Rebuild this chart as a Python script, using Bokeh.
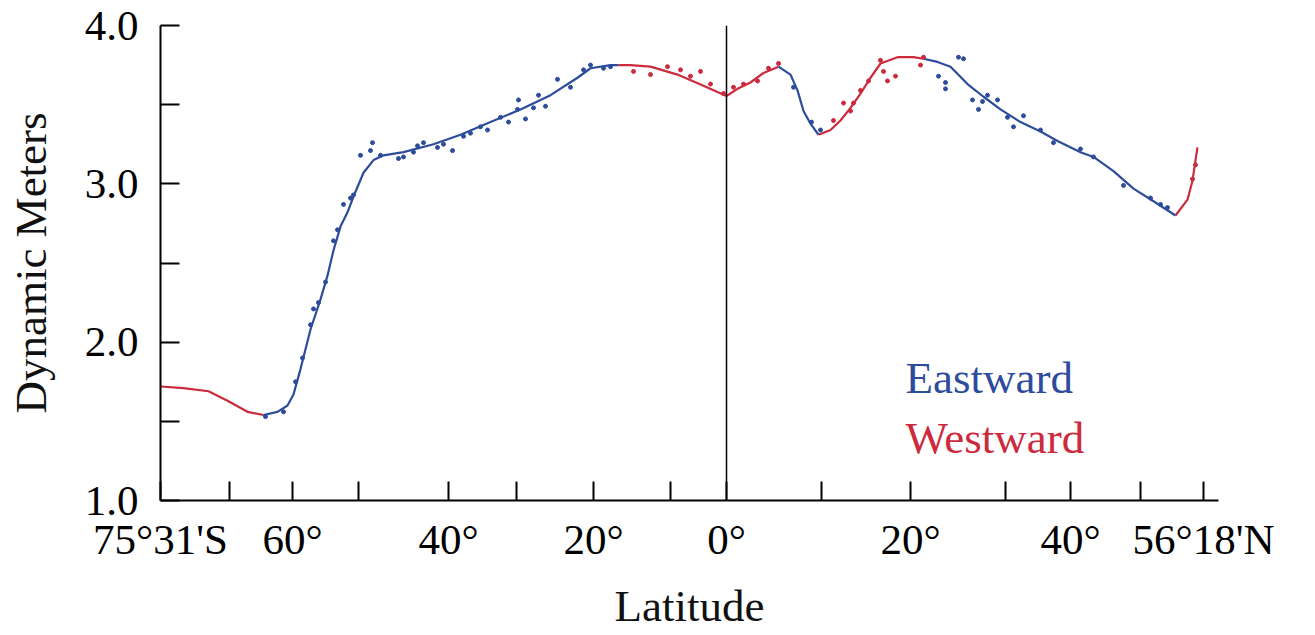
from bokeh.plotting import figure
from bokeh.models import FixedTicker, PrintfTickFormatter, Span, Label, Range1d
from bokeh.embed import file_html
from bokeh.resources import INLINE

# x: distance along the cruise track (arbitrary units), y: dynamic height (dynamic meters)

# ---- smoothed curve, split by direction of geostrophic flow ----
west1_x = [0.0, 2.3, 4.8, 6.7, 8.7, 10.3]
west1_y = [1.72, 1.71, 1.69, 1.63, 1.56, 1.54]

east1_x = [10.3, 11.7, 12.7, 13.3, 14.0, 15.0, 16.0, 16.7, 17.3, 18.0, 18.7, 19.3, 20.3,
           21.3, 22.3, 24.3, 27.3, 30.0, 33.0, 36.0, 39.0, 41.7, 43.0, 45.0, 45.8]
east1_y = [1.54, 1.56, 1.60, 1.67, 1.83, 2.08, 2.27, 2.42, 2.58, 2.73, 2.82, 2.92, 3.07,
           3.15, 3.18, 3.20, 3.25, 3.31, 3.39, 3.47, 3.56, 3.67, 3.73, 3.75, 3.75]

west2_x = [45.8, 47.0, 49.0, 51.7, 54.3, 55.7, 56.6, 57.7, 59.0, 60.3, 61.8]
west2_y = [3.75, 3.75, 3.74, 3.69, 3.62, 3.58, 3.555, 3.60, 3.64, 3.70, 3.74]

east2_x = [61.8, 63.0, 63.7, 64.3, 65.0, 65.8]
east2_y = [3.74, 3.69, 3.59, 3.46, 3.38, 3.31]

west3_x = [65.8, 67.0, 68.0, 69.0, 70.0, 71.0, 72.0, 73.7, 75.3, 76.3]
west3_y = [3.31, 3.34, 3.40, 3.48, 3.57, 3.67, 3.76, 3.80, 3.80, 3.79]

east3_x = [76.3, 77.7, 79.0, 80.7, 82.3, 84.0, 86.0, 88.0, 89.7, 92.0, 93.3, 95.3, 97.3, 99.3, 101.5]
east3_y = [3.79, 3.77, 3.74, 3.63, 3.55, 3.47, 3.39, 3.33, 3.27, 3.20, 3.17, 3.08, 2.97, 2.89, 2.80]

west4_x = [101.5, 102.7, 103.2, 103.5, 103.7]
west4_y = [2.80, 2.90, 3.02, 3.15, 3.23]

# ---- station values ----
east_pts_x = [10.5, 12.3, 13.5, 14.2, 15.0, 15.3, 15.8, 16.5, 17.3, 17.7, 18.3, 19.0, 19.3,
              20.0, 21.0, 21.2, 22.0, 23.8, 24.3, 25.3, 25.7, 26.3, 27.7, 28.3, 29.2, 30.3,
              31.0, 32.0, 32.7, 34.0, 34.8, 35.7, 35.8, 36.5, 37.3, 37.8, 38.5, 39.7, 41.0,
              42.3, 43.0, 44.3, 45.0,
              63.3, 65.1, 66.0,
              77.8, 78.5, 78.5, 79.8, 80.3, 81.2, 81.8, 82.2, 82.7, 83.7, 84.7, 85.3, 86.3,
              88.0, 89.3, 92.0, 93.3, 96.3, 99.0, 100.0, 100.7]
east_pts_y = [1.53, 1.56, 1.75, 1.90, 2.11, 2.21, 2.25, 2.38, 2.64, 2.71, 2.87, 2.91, 2.93,
              3.18, 3.21, 3.26, 3.18, 3.16, 3.17, 3.20, 3.24, 3.26, 3.23, 3.25, 3.21, 3.30,
              3.32, 3.36, 3.34, 3.42, 3.39, 3.47, 3.53, 3.41, 3.48, 3.56, 3.49, 3.66, 3.61,
              3.72, 3.75, 3.73, 3.74,
              3.61, 3.39, 3.34,
              3.68, 3.64, 3.60, 3.80, 3.79, 3.53, 3.47, 3.52, 3.56, 3.53, 3.42, 3.36, 3.43,
              3.34, 3.26, 3.22, 3.17, 2.99, 2.91, 2.87, 2.85]

west_pts_x = [47.3, 49.0, 50.7, 52.0, 53.0, 54.0, 55.0, 56.3, 57.3, 58.3, 59.7, 60.8, 61.8,
              67.3, 68.3, 69.0, 69.3, 70.0, 70.8, 72.0, 72.3, 72.7, 73.5, 76.0, 76.3,
              103.2, 103.5]
west_pts_y = [3.71, 3.69, 3.74, 3.72, 3.68, 3.71, 3.63, 3.57, 3.61, 3.63, 3.65, 3.73, 3.76,
              3.40, 3.51, 3.46, 3.51, 3.59, 3.65, 3.78, 3.71, 3.65, 3.68, 3.75, 3.80,
              3.03, 3.12]

# ---- axis ticks ----
lat_tick_pos = [0.0, 13.2, 28.8, 43.3, 56.6, 75.0, 91.0, 104.3]
lat_tick_labels = ["75°31'S", "60°", "40°", "20°", "0°", "20°", "40°", "56°18'N"]
lat_minor_pos = [6.9, 19.8, 35.6, 51.0, 66.1, 84.5, 98.0]
equator_pos = 56.6
dyn_ticks = [1.0, 2.0, 3.0, 4.0]
dyn_minor = [1.5, 2.5, 3.5]

EAST = "#2d4c9c"
WEST = "#cc2a3d"
FONT = "Liberation Serif"

p = figure(width=1313, height=633, output_backend="svg", toolbar_location=None,
           x_range=Range1d(0, 105.8), y_range=Range1d(1.0, 4.0),
           min_border_left=160, min_border_right=95, min_border_top=25, min_border_bottom=133)
p.outline_line_color = None
p.grid.visible = False
p.background_fill_color = "white"
p.border_fill_color = "white"

p.add_layout(Span(location=equator_pos, dimension="height", line_color="black", line_width=1.5))

for xs, ys in [(west1_x, west1_y), (west2_x, west2_y), (west3_x, west3_y), (west4_x, west4_y)]:
    p.line(xs, ys, line_color=WEST, line_width=2.2)
for xs, ys in [(east1_x, east1_y), (east2_x, east2_y), (east3_x, east3_y)]:
    p.line(xs, ys, line_color=EAST, line_width=2.2)

p.scatter(east_pts_x, east_pts_y, size=4, color=EAST)
p.scatter(west_pts_x, west_pts_y, size=4, color=WEST)

p.add_layout(Label(x=74.5, y=1.772, text="Eastward", text_color=EAST, text_font=FONT,
                   text_font_size="45px", text_baseline="alphabetic"))
p.add_layout(Label(x=74.5, y=1.396, text="Westward", text_color=WEST, text_font=FONT,
                   text_font_size="45px", text_baseline="alphabetic"))

xa = p.xaxis[0]
xa.ticker = FixedTicker(ticks=lat_tick_pos, minor_ticks=lat_minor_pos)
xa.major_label_overrides = {k: v for k, v in zip(lat_tick_pos, lat_tick_labels)}
xa.axis_label = "Latitude"
xa.major_label_standoff = 15
xa.axis_label_standoff = 15

ya = p.yaxis[0]
ya.ticker = FixedTicker(ticks=dyn_ticks, minor_ticks=dyn_minor)
ya.formatter = PrintfTickFormatter(format="%.1f")
ya.axis_label = "Dynamic Meters"
ya.major_label_standoff = 22
ya.axis_label_standoff = 26

for ax in (xa, ya):
    ax.axis_line_color = "black"
    ax.axis_line_width = 2
    ax.major_tick_in = 19
    ax.major_tick_out = 0
    ax.minor_tick_in = 19
    ax.minor_tick_out = 0
    ax.major_tick_line_width = 2
    ax.minor_tick_line_width = 2
    ax.major_tick_line_color = "black"
    ax.minor_tick_line_color = "black"
    ax.major_label_text_font = FONT
    ax.major_label_text_font_size = "43px"
    ax.major_label_text_color = "black"
    ax.axis_label_text_font = FONT
    ax.axis_label_text_font_size = "45px"
    ax.axis_label_text_font_style = "normal"
    ax.axis_label_text_color = "#111111"

open("out.html", "w").write(file_html(p, INLINE))
